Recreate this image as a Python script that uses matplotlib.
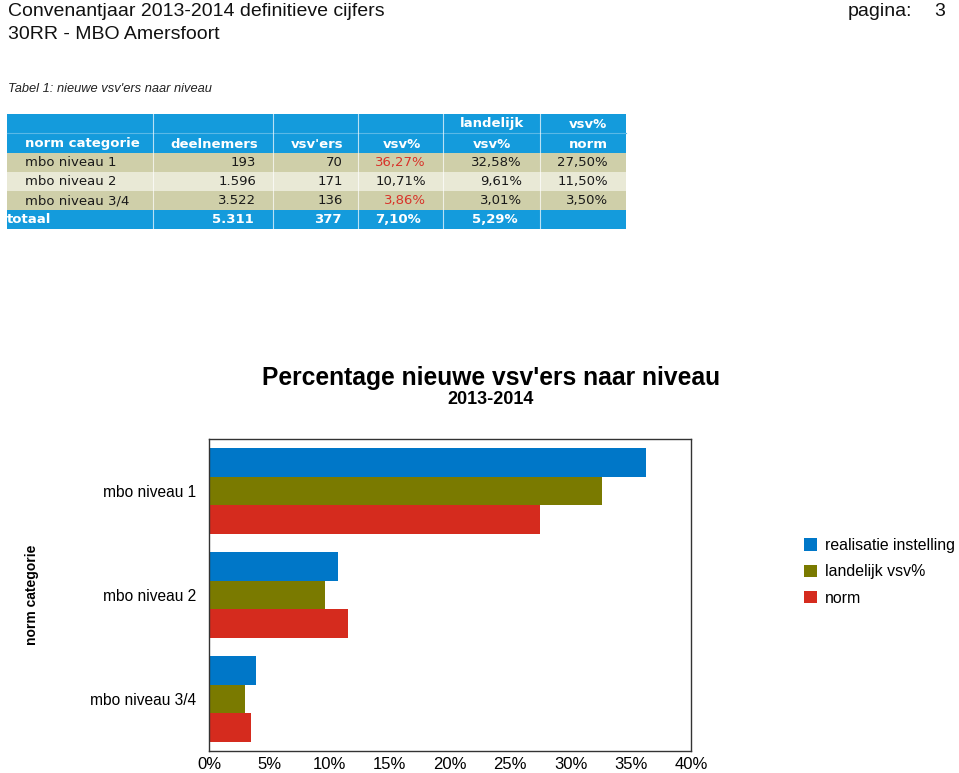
import matplotlib
matplotlib.use("Agg")
import matplotlib.pyplot as plt
from matplotlib.patches import Rectangle
from matplotlib.ticker import FuncFormatter

# --- data -----------------------------------------------------------------
categories = ["mbo niveau 1", "mbo niveau 2", "mbo niveau 3/4"]
realisatie = [36.27, 10.71, 3.86]      # realisatie instelling (vsv%)
landelijk_vsv = [32.58, 9.61, 3.01]    # landelijk vsv%
norm = [27.50, 11.50, 3.50]            # vsv% norm
series_labels = ["realisatie instelling", "landelijk vsv%", "norm"]
x_ticks = [0, 5, 10, 15, 20, 25, 30, 35, 40]

# table content
tab_deelnemers = ["193", "1.596", "3.522"]
tab_vsvers = ["70", "171", "136"]
tab_vsv_pct = ["36,27%", "10,71%", "3,86%"]
tab_landelijk = ["32,58%", "9,61%", "3,01%"]
tab_norm = ["27,50%", "11,50%", "3,50%"]
tab_totaal = ["totaal", "5.311", "377", "7,10%", "5,29%", ""]
red_cells = [0, 2]  # rows where vsv% is above the norm

colors = ["#0077c8", "#7a7a00", "#d52b1e"]
W, H = 959, 773

def px(x, y):
    # pixel position (from top-left) to figure fraction
    return x / W, 1 - y / H

fig = plt.figure(figsize=(W / 100, H / 100), dpi=100)
fig.patch.set_facecolor("white")
arial = ["Liberation Sans", "DejaVu Sans"]

# --- page header ----------------------------------------------------------
fig.text(*px(8, 16), "Convenantjaar 2013-2014 definitieve cijfers", fontsize=14,
         family=arial, va="baseline", color="#111111")
fig.text(*px(8, 39), "30RR - MBO Amersfoort", fontsize=14, family=arial,
         va="baseline", color="#111111")
fig.text(*px(848, 16), "pagina:", fontsize=14, family=arial, va="baseline", color="#111111")
fig.text(*px(945, 16), "3", fontsize=14, family=arial, va="baseline", ha="right", color="#111111")
fig.text(*px(8, 92), "Tabel 1: nieuwe vsv'ers naar niveau", fontsize=9.3, style="italic",
         family=arial, va="baseline", color="#222222")

# --- table ----------------------------------------------------------------
blue = "#149bdc"
row_bg = ["#cfcfa9", "#e9e9d6", "#cfcfa9"]
col_edges = [7, 153, 273, 358, 443, 540, 626]
row_edges = [114, 153, 172, 191, 210, 229]

def rect(x0, y0, x1, y1, color):
    fig.add_artist(Rectangle(px(x0, y1), (x1 - x0) / W, (y1 - y0) / H,
                             transform=fig.transFigure, facecolor=color, edgecolor="none"))

rect(col_edges[0], row_edges[0], col_edges[-1], row_edges[1], blue)
for i in range(3):
    rect(col_edges[0], row_edges[i + 1], col_edges[-1], row_edges[i + 2], row_bg[i])
rect(col_edges[0], row_edges[4], col_edges[-1], row_edges[5], blue)
# faint divider inside header
fig.add_artist(plt.Line2D([px(col_edges[0], 0)[0], px(col_edges[-1], 0)[0]],
                          [px(0, 133)[1]] * 2, transform=fig.transFigure,
                          color="#5ab8e6", lw=0.8))
for xe in col_edges[1:-1]:
    fig.add_artist(plt.Line2D([px(xe, 0)[0]] * 2, [px(0, 114)[1], px(0, 229)[1]],
                              transform=fig.transFigure, color="white", lw=0.8, alpha=0.7))

tfs = 9.5
# header
fig.text(*px(492, 124), "landelijk", fontsize=tfs, weight="bold", color="white", ha="center", va="center")
fig.text(*px(588, 124), "vsv%", fontsize=tfs, weight="bold", color="white", ha="center", va="center")
fig.text(*px(25, 144), "norm categorie", fontsize=tfs, weight="bold", color="white", va="center")
fig.text(*px(258, 144), "deelnemers", fontsize=tfs, weight="bold", color="white", ha="right", va="center")
fig.text(*px(343, 144), "vsv'ers", fontsize=tfs, weight="bold", color="white", ha="right", va="center")
fig.text(*px(421, 144), "vsv%", fontsize=tfs, weight="bold", color="white", ha="right", va="center")
fig.text(*px(492, 144), "vsv%", fontsize=tfs, weight="bold", color="white", ha="center", va="center")
fig.text(*px(608, 144), "norm", fontsize=tfs, weight="bold", color="white", ha="right", va="center")

for i, cat in enumerate(categories):
    yc = (row_edges[i + 1] + row_edges[i + 2]) / 2
    fig.text(*px(25, yc), cat, fontsize=tfs, color="#1a1a1a", va="center")
    fig.text(*px(256, yc), tab_deelnemers[i], fontsize=tfs, color="#1a1a1a", ha="right", va="center")
    fig.text(*px(343, yc), tab_vsvers[i], fontsize=tfs, color="#1a1a1a", ha="right", va="center")
    fig.text(*px(426, yc), tab_vsv_pct[i], fontsize=tfs, ha="right", va="center",
             color="#d8332a" if i in red_cells else "#1a1a1a")
    fig.text(*px(522, yc), tab_landelijk[i], fontsize=tfs, color="#1a1a1a", ha="right", va="center")
    fig.text(*px(608, yc), tab_norm[i], fontsize=tfs, color="#1a1a1a", ha="right", va="center")

yc = (row_edges[4] + row_edges[5]) / 2
fig.text(*px(7, yc), tab_totaal[0], fontsize=tfs, weight="bold", color="white", va="center")
for xr, s in zip([254, 342, 421, 518], tab_totaal[1:5]):
    fig.text(*px(xr, yc), s, fontsize=tfs, weight="bold", color="white", ha="right", va="center")

# --- chart ----------------------------------------------------------------
fig.text(*px(491, 378), "Percentage nieuwe vsv'ers naar niveau", fontsize=17.7, weight="bold",
         family=arial, ha="center", va="center")
fig.text(*px(491, 400), "2013-2014", fontsize=13, weight="bold", family=arial,
         ha="center", va="center")

ax = fig.add_axes([209 / W, 1 - 751 / H, (691 - 209) / W, (751 - 439) / H])
pos = list(range(len(categories)))
h = 0.275
bars = []
for k, vals in enumerate([realisatie, landelijk_vsv, norm]):
    b = ax.barh([p + (k - 1) * h for p in pos], vals, height=h, color=colors[k],
                label=series_labels[k])
    bars.append(b)

ax.set_xlim(0, 40)
ax.set_ylim(2.5, -0.5)
ax.set_xticks(x_ticks)
ax.xaxis.set_major_formatter(FuncFormatter(lambda v, p: f"{v:.0f}%"))
ax.set_yticks(pos)
ax.set_yticklabels(categories)
ax.tick_params(axis="both", length=0)
ax.tick_params(axis="x", pad=4, labelsize=12)
ax.tick_params(axis="y", pad=9, labelsize=11.2)
for lab in ax.get_xticklabels() + ax.get_yticklabels():
    lab.set_family(arial)
for sp in ax.spines.values():
    sp.set_color("#333333")
    sp.set_linewidth(1)

fig.text(*px(32, 595), "norm categorie", rotation=90, fontsize=10, weight="bold",
         family=arial, ha="center", va="center")

fig.legend(handles=bars, labels=series_labels, loc="upper left", bbox_to_anchor=px(804, 538),
           frameon=False, prop={"family": arial, "size": 11.4}, handlelength=0.8, handleheight=0.8,
           handletextpad=0.5, labelspacing=0.72, borderpad=0, borderaxespad=0)

fig.savefig("out.png", dpi=100, facecolor="white")
